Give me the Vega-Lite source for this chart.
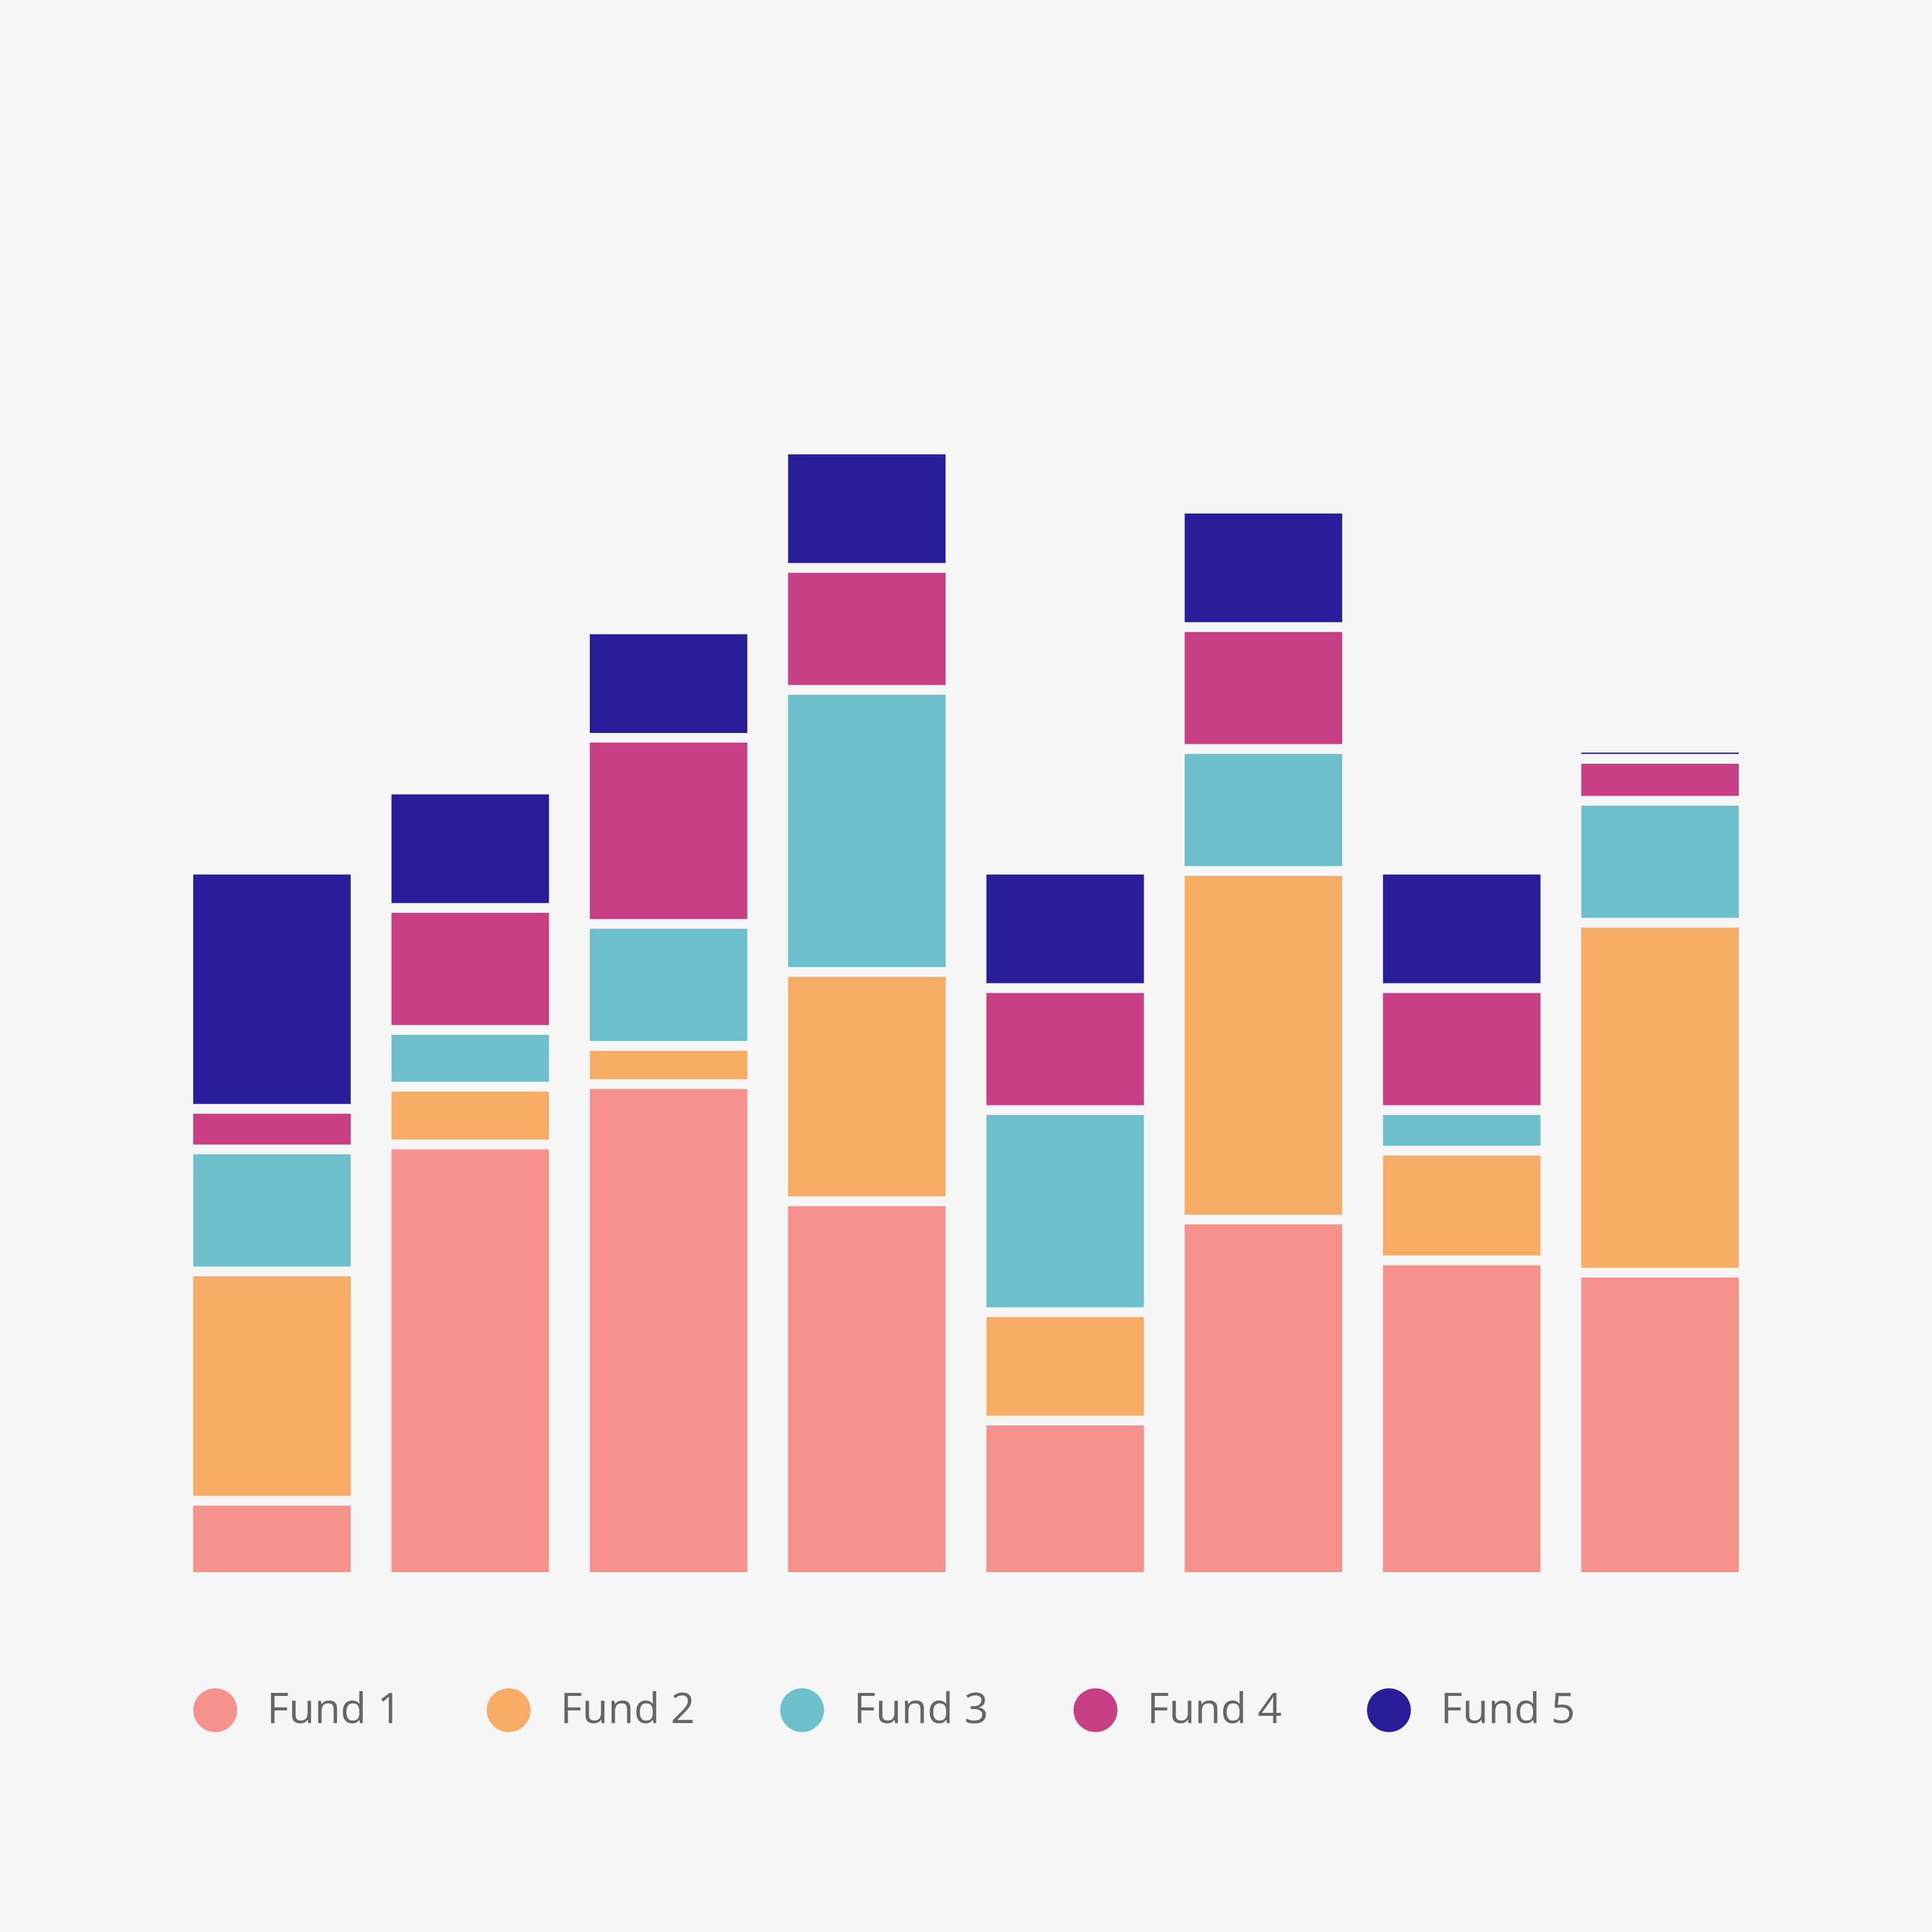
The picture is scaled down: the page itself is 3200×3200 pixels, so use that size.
{
  "$schema": "https://vega.github.io/schema/vega-lite/v6.json",
  "autosize": "none",
  "width": 2576,
  "height": 2041,
  "padding": {"left": 312, "top": 571, "right": 312, "bottom": 588},
  "background": "#f6f6f6",
  "data": {
    "values": [
      {"bar": "A", "fund": "Fund 1", "value": 62},
      {"bar": "A", "fund": "Fund 2", "value": 186},
      {"bar": "A", "fund": "Fund 3", "value": 99},
      {"bar": "A", "fund": "Fund 4", "value": 33},
      {"bar": "A", "fund": "Fund 5", "value": 194},
      {"bar": "B", "fund": "Fund 1", "value": 351},
      {"bar": "B", "fund": "Fund 2", "value": 47},
      {"bar": "B", "fund": "Fund 3", "value": 46},
      {"bar": "B", "fund": "Fund 4", "value": 99},
      {"bar": "B", "fund": "Fund 5", "value": 96},
      {"bar": "C", "fund": "Fund 1", "value": 400},
      {"bar": "C", "fund": "Fund 2", "value": 31},
      {"bar": "C", "fund": "Fund 3", "value": 99},
      {"bar": "C", "fund": "Fund 4", "value": 151},
      {"bar": "C", "fund": "Fund 5", "value": 88},
      {"bar": "D", "fund": "Fund 1", "value": 305},
      {"bar": "D", "fund": "Fund 2", "value": 186},
      {"bar": "D", "fund": "Fund 3", "value": 229},
      {"bar": "D", "fund": "Fund 4", "value": 99},
      {"bar": "D", "fund": "Fund 5", "value": 96},
      {"bar": "E", "fund": "Fund 1", "value": 127},
      {"bar": "E", "fund": "Fund 2", "value": 88},
      {"bar": "E", "fund": "Fund 3", "value": 164},
      {"bar": "E", "fund": "Fund 4", "value": 99},
      {"bar": "E", "fund": "Fund 5", "value": 96},
      {"bar": "F", "fund": "Fund 1", "value": 290},
      {"bar": "F", "fund": "Fund 2", "value": 283},
      {"bar": "F", "fund": "Fund 3", "value": 99},
      {"bar": "F", "fund": "Fund 4", "value": 99},
      {"bar": "F", "fund": "Fund 5", "value": 96},
      {"bar": "G", "fund": "Fund 1", "value": 257},
      {"bar": "G", "fund": "Fund 2", "value": 89},
      {"bar": "G", "fund": "Fund 3", "value": 33},
      {"bar": "G", "fund": "Fund 4", "value": 99},
      {"bar": "G", "fund": "Fund 5", "value": 96},
      {"bar": "H", "fund": "Fund 1", "value": 247},
      {"bar": "H", "fund": "Fund 2", "value": 284},
      {"bar": "H", "fund": "Fund 3", "value": 99},
      {"bar": "H", "fund": "Fund 4", "value": 34},
      {"bar": "H", "fund": "Fund 5", "value": 9}
    ]
  },
  "mark": {"type": "bar", "stroke": "#f6f6f6", "strokeWidth": 16},
  "encoding": {
    "x": {
      "field": "bar",
      "type": "nominal",
      "axis": null,
      "scale": {"paddingInner": 0.157, "paddingOuter": 0}
    },
    "y": {
      "field": "value",
      "type": "quantitative",
      "aggregate": "sum",
      "stack": "zero",
      "axis": null,
      "scale": {"domain": [0, 1000]}
    },
    "order": {"field": "fund", "type": "nominal", "sort": "ascending"},
    "color": {
      "field": "fund",
      "type": "nominal",
      "scale": {
        "domain": ["Fund 1", "Fund 2", "Fund 3", "Fund 4", "Fund 5"],
        "range": ["#f7918c", "#f6ac65", "#6cbfcb", "#c83f85", "#281e99"]
      },
      "legend": {
        "title": null,
        "orient": "none",
        "direction": "horizontal",
        "columns": 5,
        "legendX": 8,
        "legendY": 2225,
        "symbolType": "circle",
        "symbolSize": 5300,
        "symbolStrokeWidth": 0,
        "labelFont": "Open Sans",
        "labelFontSize": 70,
        "labelColor": "#666666",
        "labelOffset": 49,
        "labelLimit": 600,
        "columnPadding": 140
      }
    }
  },
  "config": {"view": {"stroke": null}}
}
